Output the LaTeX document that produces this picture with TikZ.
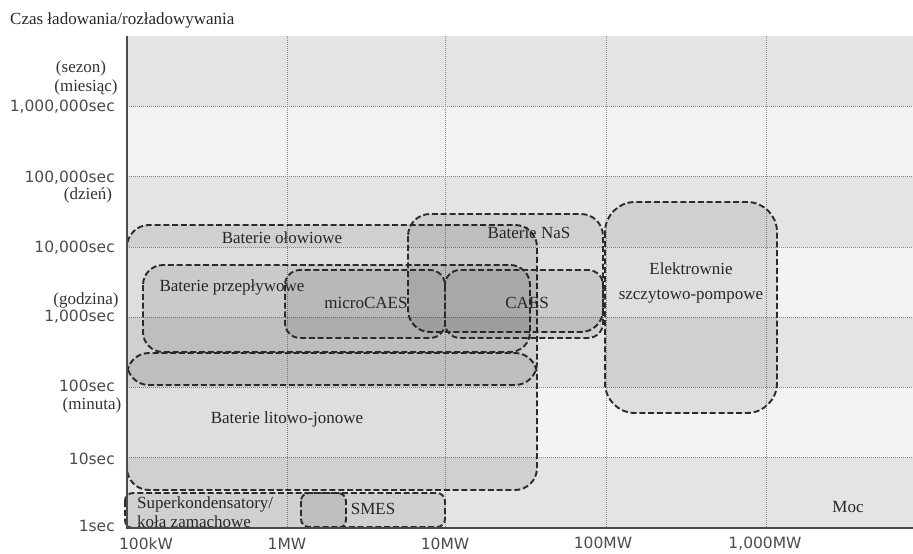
\documentclass[tikz,border=0pt]{standalone}
\usepackage{fontspec}
\setmainfont{Liberation Serif}
\newfontfamily\axisfont{DejaVu Sans}
\usepackage{tikz}
\usetikzlibrary{shapes,positioning,backgrounds,calc}

\definecolor{banddark}{HTML}{E4E4E4}
\definecolor{bandlight}{HTML}{F3F3F3}
\definecolor{gridgray}{HTML}{8A8A8A}
\definecolor{edgegray}{HTML}{2B2B2B}

\begin{document}
\begin{tikzpicture}[
    x=1pt, y=-1pt,
    gridline/.style={gridgray, line width=1pt, dash pattern=on 1pt off 1pt},
    axisline/.style={edgegray!85, line width=2pt},
    region/.style={draw=edgegray, line width=1.9pt, dash pattern=on 6pt off 2.8pt, fill=black, fill opacity=0.085, rounded corners=#1},
    region/.default=20pt,
    tech/.style={font=\fontsize{17}{19}\selectfont, text=black!85, inner sep=0pt},
    tick/.style={font=\axisfont\fontsize{15.5}{17}\selectfont, text=black!70, inner sep=0pt},
    unit/.style={font=\fontsize{17}{18}\selectfont, text=black!80, inner sep=0pt}
]
\useasboundingbox (0,0) rectangle (913,554);
\fill[white] (0,0) rectangle (913,554);

% tlo w pasach
\foreach \ya/\yb/\col in {36/106/banddark, 106/176/bandlight, 176/247/banddark, 247/317/bandlight, 317/387/banddark, 387/457/bandlight, 457/528/banddark}
    \fill[\col] (127,\ya) rectangle (913,\yb);

% siatka
\foreach \y in {106,176,247,317,387,457}
    \draw[gridline] (127,\y) -- (913,\y);
\foreach \x in {287,445,606,766}
    \draw[gridline] (\x,36) -- (\x,528);

% obszary technologii
\draw[region=22pt] (127,353) rectangle (537,490);
\draw[region=22pt] (127,225) rectangle (537,385);
\draw[region=20pt] (143,265) rectangle (530,352);
\draw[region=22pt] (408,214) rectangle (603,332);
\draw[region=15pt] (285,270) rectangle (445,338);
\draw[region=15pt] (445,270) rectangle (603,338);
\draw[region=30pt] (605,202) rectangle (777,413);
\draw[region=8pt] (125,493) rectangle (346,528);
\draw[region=8pt] (301,493) rectangle (445,527);

% osie
\draw[axisline] (127,36) -- (127,528) -- (913,528);

\node[tech, anchor=west] (title) at (10,20) {Czas ładowania/rozładowywania};

\node[tech] (olow) at (282,238) {Baterie ołowiowe};
\node[tech] (przep) at (232,287) {Baterie przepływowe};
\node[tech] (micro) at (366,303) {microCAES};
\node[tech] (caes) at (527,303) {CAES};
\node[tech] (nas) at (529,233) {Baterie NaS};
\node[tech, align=center, font=\fontsize{17}{25}\selectfont] (pomp) at (691,283) {Elektrownie\\szczytowo-pompowe};
\node[tech] (lit) at (287,419) {Baterie litowo-jonowe};
\node[tech, anchor=west, align=left, font=\fontsize{17}{19}\selectfont] (superk) at (137,512) {Superkondensatory/\\koła zamachowe};
\node[tech] (smes) at (373,509) {SMES};
\node[tech] (moc) at (848,507) {Moc};

% opisy osi Y
\node[tick, anchor=east] (t6) at (115,107) {1,000,000sec};
\node[tick, anchor=east] (t5) at (115,178) {100,000sec};
\node[tick, anchor=east] (t4) at (115,248) {10,000sec};
\node[tick, anchor=east] (t3) at (115,317) {1,000sec};
\node[tick, anchor=east] (t2) at (115,386) {100sec};
\node[tick, anchor=east] (t1) at (115,459) {10sec};
\node[tick, anchor=east] (t0) at (115,526) {1sec};

\node[unit] (sezon) at (81,68) {(sezon)};
\node[unit] (miesiac) at (86,87) {(miesiąc)};
\node[unit] (dzien) at (88,195) {(dzień)};
\node[unit] (godzina) at (86,300) {(godzina)};
\node[unit] (minuta) at (92,405) {(minuta)};

% opisy osi X
\node[tick] (p0) at (146,544) {100kW};
\node[tick] (p1) at (287,544) {1MW};
\node[tick] (p2) at (445,544) {10MW};
\node[tick] (p3) at (603,543) {100MW};
\node[tick] (p4) at (765,544) {1,000MW};

\end{tikzpicture}
\end{document}
